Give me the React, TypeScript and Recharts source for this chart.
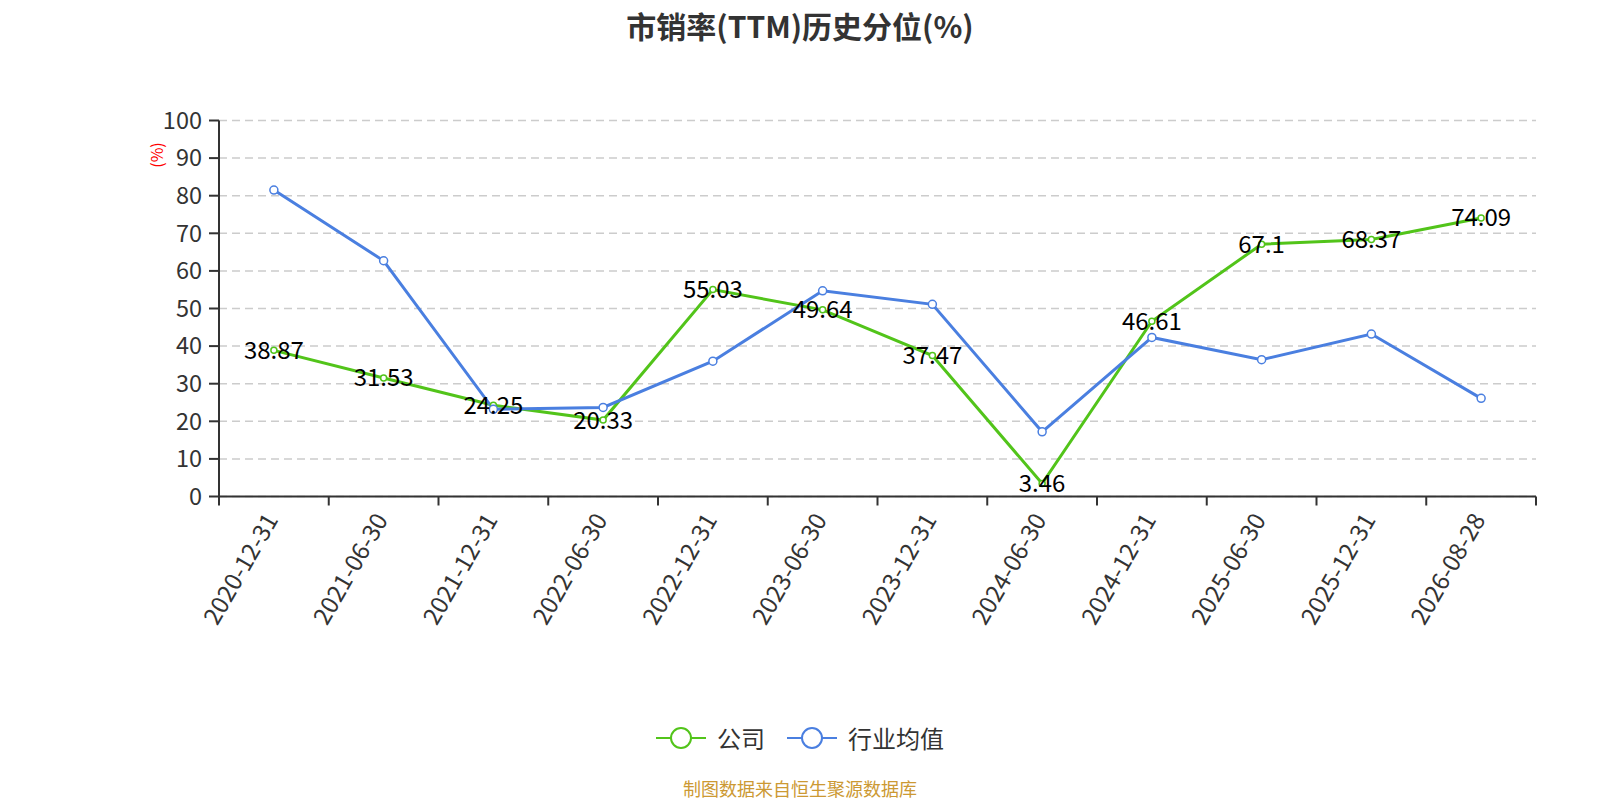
import React from 'react';
import { LineChart, Line, XAxis, YAxis, CartesianGrid, Legend, LabelList } from 'recharts';

const dates = [
  '2020-12-31', '2021-06-30', '2021-12-31', '2022-06-30', '2022-12-31', '2023-06-30',
  '2023-12-31', '2024-06-30', '2024-12-31', '2025-06-30', '2025-12-31', '2026-08-28',
];
const companyValues = [38.87, 31.53, 24.25, 20.33, 55.03, 49.64, 37.47, 3.46, 46.61, 67.1, 68.37, 74.09];
const industryValues = [81.5, 62.7, 23.2, 23.7, 36.0, 54.7, 51.1, 17.2, 42.3, 36.4, 43.2, 26.1];
const yTicks = [0, 10, 20, 30, 40, 50, 60, 70, 80, 90, 100];
const seriesNames = ['公司', '行业均值'];
const seriesColors = ['#52c41a', '#4a7fe0'];
const titleText = '市销率(TTM)历史分位(%)';
const yAxisName = '(%)';
const footerText = '制图数据来自恒生聚源数据库';

const data = dates.map((d, i) => ({ date: d, company: companyValues[i], industry: industryValues[i] }));

const W = 1600;
const H = 800;
const PLOT_LEFT = 219;
const PLOT_RIGHT = 1536;
const PLOT_TOP = 120.5;
const PLOT_BOTTOM = 496.5;
const Y_AXIS_W = 60;
const X_AXIS_H = 30;
const BAND = (PLOT_RIGHT - PLOT_LEFT) / dates.length;
const FONT = '"Noto Sans CJK SC", "Noto Sans", sans-serif';

const XTick = (props: any) => {
  const { x, y, payload, index } = props;
  const half = BAND / 2;
  const tx = x - 4;
  const ty = y + 18;
  return (
    <g>
      <line x1={x - half} y1={y} x2={x - half} y2={y + 9} stroke="#333" strokeWidth={2} />
      {index === dates.length - 1 && (
        <line x1={x + half} y1={y} x2={x + half} y2={y + 9} stroke="#333" strokeWidth={2} />
      )}
      <text
        x={tx}
        y={ty}
        transform={`rotate(-60 ${tx} ${ty})`}
        textAnchor="end"
        dominantBaseline="central"
        fill="#333"
        fontSize={24}
        fontFamily={FONT}
      >
        {payload.value}
      </text>
    </g>
  );
};

const renderLabel = (props: any) => {
  const { x, y, value } = props;
  return (
    <text x={x} y={y - 2} textAnchor="middle" dominantBaseline="central" fontSize={24} fill="#000" fontFamily={FONT}>
      {value}
    </text>
  );
};

const LegendContent = () => (
  <div style={{ display: 'flex', justifyContent: 'center', alignItems: 'center', fontFamily: FONT, height: 24 }}>
    {seriesNames.map((name, i) => (
      <div key={name} style={{ display: 'flex', alignItems: 'center', marginRight: i === 0 ? 22 : 0 }}>
        <svg width={50} height={24} style={{ marginRight: 11, display: 'block' }}>
          <line x1={0} y1={12} x2={50} y2={12} stroke={seriesColors[i]} strokeWidth={2} />
          <circle cx={25} cy={12} r={10} fill="#fff" stroke={seriesColors[i]} strokeWidth={2} />
        </svg>
        <span style={{ fontSize: 24, color: '#333', lineHeight: '24px' }}>{name}</span>
      </div>
    ))}
  </div>
);

export default function App() {
  return (
    <div style={{ position: 'absolute', left: 0, top: 0, width: W, height: H, overflow: 'hidden', fontFamily: FONT, background: '#fff' }}>
      <div
        style={{
          position: 'absolute', left: 800 - 300, top: 9, width: 600, textAlign: 'center',
          fontSize: 30, fontWeight: 'bold', color: '#333', lineHeight: '32px', zIndex: 2,
        }}
      >
        {titleText}
      </div>
      <div
        style={{
          position: 'absolute', left: 156 - 20, top: 155 - 10, width: 40, height: 20, textAlign: 'center',
          fontSize: 16, color: 'red', lineHeight: '20px', transform: 'rotate(-90deg)', zIndex: 2,
        }}
      >
        {yAxisName}
      </div>
      <LineChart
        width={W}
        height={H}
        data={data}
        margin={{ top: PLOT_TOP, right: W - PLOT_RIGHT, bottom: H - PLOT_BOTTOM - X_AXIS_H, left: PLOT_LEFT - Y_AXIS_W }}
      >
        <CartesianGrid vertical={false} stroke="#ccc" strokeDasharray="8 5" strokeWidth={1.5} />
        <XAxis
          dataKey="date"
          interval={0}
          padding={{ left: BAND / 2, right: BAND / 2 }}
          tickLine={false}
          tickSize={0}
          tickMargin={0}
          axisLine={{ stroke: '#333', strokeWidth: 2 }}
          tick={<XTick />}
          height={X_AXIS_H}
        />
        <YAxis
          width={Y_AXIS_W}
          domain={[0, 100]}
          ticks={yTicks}
          interval={0}
          tickSize={10}
          tickMargin={7}
          axisLine={{ stroke: '#333', strokeWidth: 2 }}
          tickLine={{ stroke: '#333', strokeWidth: 2 }}
          tick={{ fill: '#333', fontSize: 23.5, fontFamily: FONT }}
        />
        <Legend
          layout="horizontal"
          verticalAlign="middle"
          align="center"
          content={<LegendContent />}
          wrapperStyle={{ position: 'absolute', top: 726, left: 0, width: W }}
        />
        <Line
          type="linear"
          dataKey="company"
          name={seriesNames[0]}
          stroke={seriesColors[0]}
          strokeWidth={3}
          dot={{ r: 3, fill: '#fff', stroke: seriesColors[0], strokeWidth: 1.5 }}
          activeDot={false}
          isAnimationActive={false}
        />
        <Line
          type="linear"
          dataKey="industry"
          name={seriesNames[1]}
          stroke={seriesColors[1]}
          strokeWidth={3}
          dot={{ r: 4, fill: '#fff', stroke: seriesColors[1], strokeWidth: 1.5 }}
          activeDot={false}
          isAnimationActive={false}
        />
        <Line
          type="linear"
          dataKey="company"
          stroke="none"
          dot={false}
          activeDot={false}
          legendType="none"
          isAnimationActive={false}
        >
          <LabelList dataKey="company" content={renderLabel} />
        </Line>
      </LineChart>
      <div
        style={{
          position: 'absolute', left: 800 - 300, top: 777, width: 600, textAlign: 'center',
          fontSize: 18, color: '#cc9933', lineHeight: '22px',
        }}
      >
        {footerText}
      </div>
    </div>
  );
}
